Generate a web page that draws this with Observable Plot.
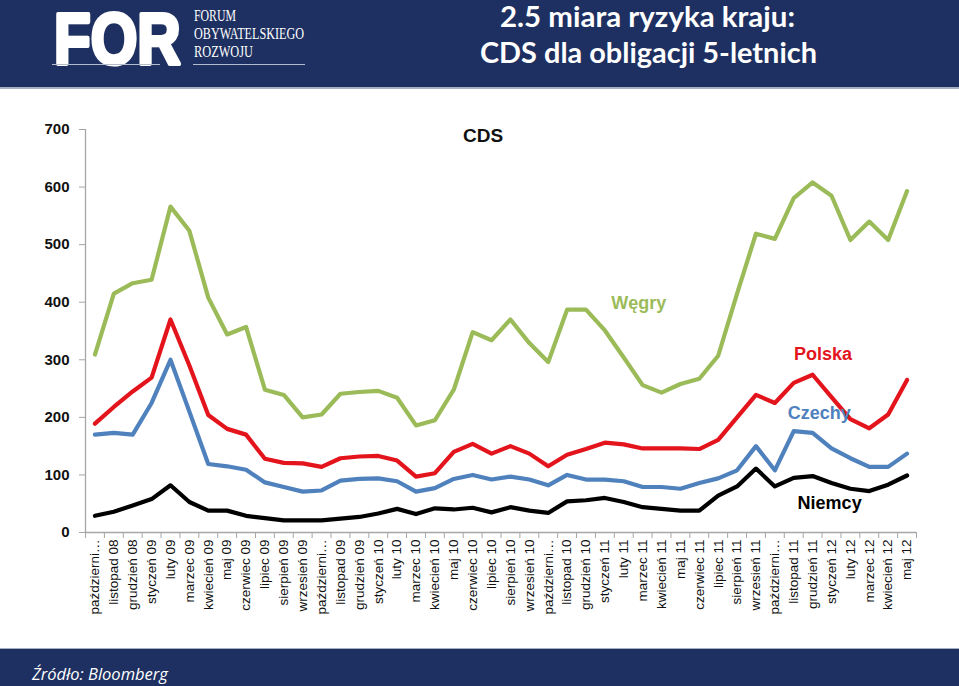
<!DOCTYPE html>
<html>
<head>
<meta charset="utf-8">
<script src="https://cdn.jsdelivr.net/npm/d3@7"></script>
<script src="https://cdn.jsdelivr.net/npm/@observablehq/plot@0.6"></script>
<style>
  html, body { margin: 0; padding: 0; background: #fff; }
  #page { position: relative; width: 959px; height: 686px; overflow: hidden; background: #fff; }
  #header { position: absolute; left: 0; top: 0; width: 959px; height: 87px; background: #1e3061; border-bottom: 2px solid #a7afc0; }
  #chart { position: absolute; left: 0; top: 88px; }
  #footer { position: absolute; left: 0; top: 648px; width: 959px; height: 38px; background: #1e3061; border-top: 1px solid #a7afc0; }
  #footer span { position: absolute; left: 32px; top: 15px; color: #fff; font-family: "Open Sans", "Liberation Sans", sans-serif; font-style: italic; font-size: 16.5px; line-height: 20px; }
</style>
</head>
<body>
<div id="page">
  <div id="header">
    <svg width="959" height="87" xmlns="http://www.w3.org/2000/svg">
      <text x="54" y="53.5" transform="scale(1,1.2)" fill="#fff" stroke="#fff" stroke-width="3.5" stroke-linejoin="round" font-family="Liberation Sans, Arial, sans-serif" font-weight="bold" font-size="60">FOR</text>
      <line x1="52" y1="64.5" x2="160" y2="64.5" stroke="#b4bccb" stroke-width="1.2"/>
      <line x1="193" y1="64.5" x2="305" y2="64.5" stroke="#b4bccb" stroke-width="1.2"/>
      <text x="194" y="21" fill="#fff" font-family="Liberation Serif, serif" font-size="16" textLength="42" lengthAdjust="spacingAndGlyphs">FORUM</text>
      <text x="194" y="39" fill="#fff" font-family="Liberation Serif, serif" font-size="16" textLength="110" lengthAdjust="spacingAndGlyphs">OBYWATELSKIEGO</text>
      <text x="194" y="57" fill="#fff" font-family="Liberation Serif, serif" font-size="16" textLength="59" lengthAdjust="spacingAndGlyphs">ROZWOJU</text>
      <text x="500" y="27" fill="#fff" font-family="Lato, Open Sans, sans-serif" font-weight="bold" font-size="28" textLength="295" lengthAdjust="spacingAndGlyphs">2.5 miara ryzyka kraju:</text>
      <text x="480" y="63" fill="#fff" font-family="Lato, Open Sans, sans-serif" font-weight="bold" font-size="28" textLength="337" lengthAdjust="spacingAndGlyphs">CDS dla obligacji 5-letnich</text>
    </svg>
  </div>
  <div id="chart"></div>
  <div id="footer"><span>Źródło: Bloomberg</span></div>
</div>
<script>
// Month tick labels (as shown, truncated ones included)
const months = [
  "październi…", "listopad 08", "grudzień 08", "styczeń 09", "luty 09", "marzec 09",
  "kwiecień 09", "maj 09", "czerwiec 09", "lipiec 09", "sierpień 09", "wrzesień 09",
  "październi…", "listopad 09", "grudzień 09", "styczeń 10", "luty 10", "marzec 10",
  "kwiecień 10", "maj 10", "czerwiec 10", "lipiec 10", "sierpień 10", "wrzesień 10",
  "październi…", "listopad 10", "grudzień 10", "styczeń 11", "luty 11", "marzec 11",
  "kwiecień 11", "maj 11", "czerwiec 11", "lipiec 11", "sierpień 11", "wrzesień 11",
  "październi…", "listopad 11", "grudzień 11", "styczeń 12", "luty 12", "marzec 12",
  "kwiecień 12", "maj 12"
];

// Series values (CDS, bp)
const wegry = [309, 415, 433, 439, 566, 524, 408, 344, 357, 248, 239, 200, 205, 241, 244, 246, 234, 186, 195, 248,
               348, 334, 370, 329, 296, 387, 387, 351, 304, 256, 243, 258, 267, 307, 415, 519, 510, 581, 608, 585,
               508, 540, 508, 593];
const polska = [189, 218, 245, 269, 370, 290, 204, 180, 170, 128, 121, 120, 114, 129, 132, 133, 125, 97, 103, 140,
                154, 137, 150, 137, 115, 135, 145, 156, 153, 146, 146, 146, 145, 161, 200, 239, 225, 260, 274, 235,
                197, 181, 205, 265];
const czechy = [170, 173, 170, 225, 300, 210, 119, 115, 109, 87, 79, 71, 73, 90, 93, 94, 89, 71, 77, 93,
                100, 92, 97, 92, 82, 100, 92, 92, 89, 79, 79, 76, 86, 94, 108, 150, 108, 176, 173, 146,
                129, 114, 114, 137];
const niemcy = [29, 36, 47, 58, 82, 53, 38, 38, 29, 25, 21, 21, 21, 24, 27, 33, 41, 32, 42, 40,
                43, 35, 44, 38, 34, 54, 56, 60, 53, 44, 41, 38, 38, 64, 80, 111, 80, 95, 98, 86,
                76, 72, 83, 99];

const seriesNames = ["Węgry", "Polska", "Czechy", "Niemcy"];
const seriesValues = [wegry, polska, czechy, niemcy];
const yTicks = [0, 100, 200, 300, 400, 500, 600, 700];

// style / placement config (not data)
const colors = {"Węgry": "#9bbb59", "Polska": "#e3141c", "Czechy": "#4f81bd", "Niemcy": "#000000"};
const labelAt = [
  {name: "Węgry", i: 28.8, v: 398},
  {name: "Polska", i: 38.55, v: 309},
  {name: "Czechy", i: 38.35, v: 207},
  {name: "Niemcy", i: 38.9, v: 50}
];

const rows = [];
seriesNames.forEach((name, s) => {
  seriesValues[s].forEach((v, i) => rows.push({name, i, v}));
});
const idx = months.map((_, i) => i);
const bounds = d3.range(-0.5, months.length, 1);

const plot = Plot.plot({
  width: 959,
  height: 560,
  marginTop: 41,
  marginBottom: 116,
  marginLeft: 85,
  marginRight: 43,
  style: {background: "transparent", fontFamily: "Liberation Sans, Arial, sans-serif"},
  x: {type: "linear", domain: [-0.5, months.length - 0.5], axis: null},
  y: {domain: [0, 700], axis: null},
  marks: [
    Plot.ruleX([-0.5], {y1: 0, y2: 700, stroke: "#a6a6a6", strokeWidth: 1.3}),
    Plot.ruleY([0], {stroke: "#a6a6a6", strokeWidth: 1.3}),
    Plot.axisY({ticks: yTicks, label: null, tickSize: 6, tickPadding: 10, stroke: "#a6a6a6", fill: "#111", fontSize: 15, fontWeight: "bold", tickFormat: d => d}),
    Plot.axisX({ticks: bounds, label: null, tickSize: 6, stroke: "#a6a6a6", tickFormat: () => ""}),
    Plot.axisX({ticks: idx, label: null, tickSize: 0, tickPadding: 7, tickRotate: -90, fill: "#111", fontSize: 13.5, tickFormat: i => months[i]}),
    Plot.text(["CDS"], {frameAnchor: "top", dx: -18, dy: -1, fontSize: 19, fontWeight: "bold", fill: "#111"}),
    Plot.line(rows, {x: "i", y: "v", z: "name", stroke: d => colors[d.name], strokeWidth: 4.2, strokeLinejoin: "round", strokeLinecap: "round"}),
    Plot.text(labelAt, {x: "i", y: "v", text: "name", fill: d => colors[d.name], fontSize: 18, fontWeight: "bold"})
  ]
});
document.getElementById("chart").appendChild(plot);
</script>
</body>
</html>
